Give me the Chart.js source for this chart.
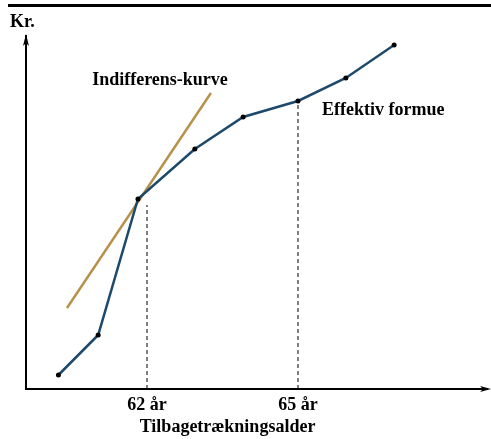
<!DOCTYPE html>
<html lang="da">
<head>
  <meta charset="UTF-8" />
  <title>Effektiv formue og tilbagetrækningsalder</title>
  <style>
    html, body { margin: 0; padding: 0; background: #fff; }
    #wrap { width: 491px; height: 439px; }
  </style>
</head>
<body>
  <div id="wrap"><canvas id="chart" width="491" height="439"></canvas></div>

  <script src="https://cdn.jsdelivr.net/npm/chart.js"></script>
  <script>
    // Effektiv formue (age, kr. in arbitrary units)
    const formueAges = [60.24, 61.03, 61.82, 62.95, 63.91, 65.0, 65.95, 66.91];
    const formueValues = [1.4, 5.4, 19.0, 24.0, 27.2, 28.8, 31.1, 34.4];

    // Indifferens-kurve (straight segment)
    const kurveAges = [60.41, 63.27];
    const kurveValues = [8.1, 29.6];

    // ages marked on the x axis, and where the dashed guides stop
    const markAges = [62, 65];
    const markTops = [18.4, 28.8];
    const tickSuffix = ' år';

    const serif = '"Liberation Serif", "DejaVu Serif", serif';

    const toPoints = (xs, ys) => xs.map((x, i) => ({ x: x, y: ys[i] }));

    const guideSets = markAges.map((a, i) => ({
      data: [{ x: a, y: 0 }, { x: a, y: markTops[i] }],
      borderColor: '#000',
      borderWidth: 1,
      borderDash: [4, 3],
      pointRadius: 0,
      showLine: true
    }));

    // arrows, top rule and free text
    const decorations = {
      id: 'decorations',
      afterDraw(chart) {
        const ctx = chart.ctx;
        const a = chart.chartArea;
        const xs = chart.scales.x;
        const tipX = 490;
        ctx.save();
        ctx.fillStyle = '#000';
        ctx.strokeStyle = '#000';

        // rule at the top
        ctx.fillRect(8, 4, 483, 3);

        // x axis runs on to the arrow
        ctx.fillRect(a.right - 2, a.bottom - 1, tipX - a.right, 2);

        // arrow heads
        ctx.beginPath();
        ctx.moveTo(a.left, a.top - 2);
        ctx.lineTo(a.left - 3, a.top + 10);
        ctx.lineTo(a.left, a.top + 7);
        ctx.lineTo(a.left + 3, a.top + 10);
        ctx.closePath();
        ctx.fill();
        ctx.beginPath();
        ctx.moveTo(tipX + 1, a.bottom);
        ctx.lineTo(tipX - 10, a.bottom - 3);
        ctx.lineTo(tipX - 7, a.bottom);
        ctx.lineTo(tipX - 10, a.bottom + 3);
        ctx.closePath();
        ctx.fill();

        ctx.font = 'bold 18px ' + serif;
        ctx.textBaseline = 'middle';
        ctx.textAlign = 'left';
        ctx.fillText('Kr.', 10, 22);
        ctx.fillText('Effektiv formue', 322, 110);
        ctx.textAlign = 'center';
        ctx.fillText('Indifferens-kurve', 160, 80);
        ctx.fillText('Tilbagetrækningsalder', xs.getPixelForValue(63.6), 427);
        ctx.restore();
      }
    };

    new Chart(document.getElementById('chart'), {
      type: 'scatter',
      data: {
        datasets: [
          ...guideSets,
          {
            label: 'Effektiv formue',
            data: toPoints(formueAges, formueValues),
            showLine: true,
            borderColor: '#1d4a6c',
            borderWidth: 2.5,
            pointRadius: 2.5,
            pointBackgroundColor: '#000',
            pointBorderColor: '#000',
            pointBorderWidth: 0
          },
          {
            label: 'Indifferens-kurve',
            data: toPoints(kurveAges, kurveValues),
            showLine: true,
            borderColor: '#b8924c',
            borderWidth: 2.5,
            pointRadius: 0
          }
        ]
      },
      options: {
        responsive: false,
        animation: false,
        events: [],
        layout: { padding: { top: 36, right: 1, left: 0, bottom: 0 } },
        plugins: {
          legend: { display: false },
          tooltip: { enabled: false }
        },
        scales: {
          x: {
            type: 'linear',
            min: 59.596,
            max: 68.755,
            grid: { display: false, drawTicks: false },
            border: { display: true, color: '#000', width: 2 },
            afterBuildTicks: (s) => { s.ticks = markAges.map(v => ({ value: v })); },
            afterFit: (s) => { s.height = 50; },
            ticks: {
              autoSkip: false,
              maxRotation: 0,
              padding: 6,
              color: '#000',
              font: { family: serif, size: 18, weight: 'bold' },
              callback: (v) => v + tickSuffix
            }
          },
          y: {
            type: 'linear',
            min: 0,
            max: 35.3,
            grid: { display: false, drawTicks: false },
            border: { display: true, color: '#000', width: 2 },
            ticks: { display: false },
            afterFit: (s) => { s.width = 26; }
          }
        }
      },
      plugins: [decorations]
    });
  </script>
</body>
</html>
